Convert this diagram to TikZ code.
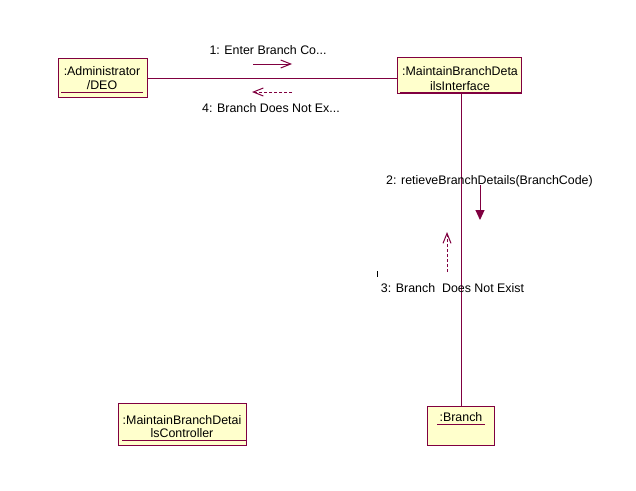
\documentclass[tikz,border=0pt]{standalone}
\usepackage{fontspec}
\setmainfont{Liberation Sans}
\usetikzlibrary{arrows.meta}
\definecolor{umlline}{RGB}{128,0,64}
\definecolor{umlfill}{RGB}{255,255,204}
\begin{document}
\begin{tikzpicture}[x=1pt,y=-1pt,
  objbox/.style={draw=umlline,fill=umlfill,line width=1pt,rectangle,inner sep=0pt},
  objtext/.style={inner sep=0pt,align=center,font=\fontsize{12.4}{14}\selectfont,text=black},
  msgtext/.style={inner sep=0pt,font=\fontsize{12.4}{14}\selectfont,text=black},
  uline/.style={draw=umlline,line width=1pt},
  link/.style={draw=umlline,line width=1pt},
  callmsg/.style={draw=umlline,line width=1pt,-{Straight Barb[length=10pt,width=8pt]}},
  retmsg/.style={draw=umlline,line width=1pt,dash pattern=on 3pt off 2pt,-{Straight Barb[length=10pt,width=8pt]}},
  procmsg/.style={draw=umlline,line width=1pt,-{Triangle[length=10pt,width=9pt]}}
]
\useasboundingbox (0,0) rectangle (636,490);
\fill[white] (0,0) rectangle (636,490);

% objects
\node[objbox,minimum width=89pt,minimum height=39pt] (admin) at (102.5,77.5) {};
\node[objbox,minimum width=124pt,minimum height=36pt] (iface) at (459,75) {};
\node[objbox,minimum width=128pt,minimum height=42pt] (ctrl) at (182,424) {};
\node[objbox,minimum width=67pt,minimum height=39pt] (branch) at (460.5,425.5) {};

% object texts
\node[objtext] (adminT1) at (102,71) {:Administrator};
\node[objtext] (adminT2) at (102,85.5) {/DEO};
\node[objtext] (ifaceT1) at (460,71) {:MaintainBranchDeta};
\node[objtext] (ifaceT2) at (460,86.5) {ilsInterface};
\node[objtext] (ctrlT1) at (182,420) {:MaintainBranchDetai};
\node[objtext] (ctrlT2) at (182,433.5) {lsController};
\node[objtext] (branchT) at (461,417) {:Branch};

% underlines
\draw[uline] (61,92) -- (143,92);
\draw[uline] (400,92) -- (521,92);
\draw[uline] (122,440) -- (246,440);
\draw[uline] (437,424) -- (485,424);

% links
\draw[link] (admin.east |- 0,78) -- (iface.west |- 0,78);
\draw[link] (iface.south -| 461.5,0) -- (branch.north -| 461.5,0);

% messages
\coordinate (m1s) at (253,64);
\coordinate (m1e) at (292,64);
\draw[callmsg] (m1s) -- (m1e);
\node[msgtext] (m1) at (268,50) {1: Enter Branch Co...};

\coordinate (m4s) at (292,92);
\coordinate (m4e) at (252,92);
\draw[retmsg] (m4s) -- (m4e);
\node[msgtext] (m4) at (271,108) {4: Branch Does Not Ex...};

\coordinate (m2s) at (480,185);
\coordinate (m2e) at (480,220);
\draw[procmsg] (m2s) -- (m2e);
\node[msgtext] (m2) at (489.5,181) {2: retieveBranchDetails(BranchCode)};

\coordinate (m3s) at (447,272);
\coordinate (m3e) at (447,232);
\draw[retmsg] (m3s) -- (m3e);
\node[msgtext] (m3) at (452.5,288) {3: Branch\ \ Does Not Exist};

% stray tick
\draw[black,line width=1pt] (377.5,271) -- (377.5,277);
\end{tikzpicture}
\end{document}
